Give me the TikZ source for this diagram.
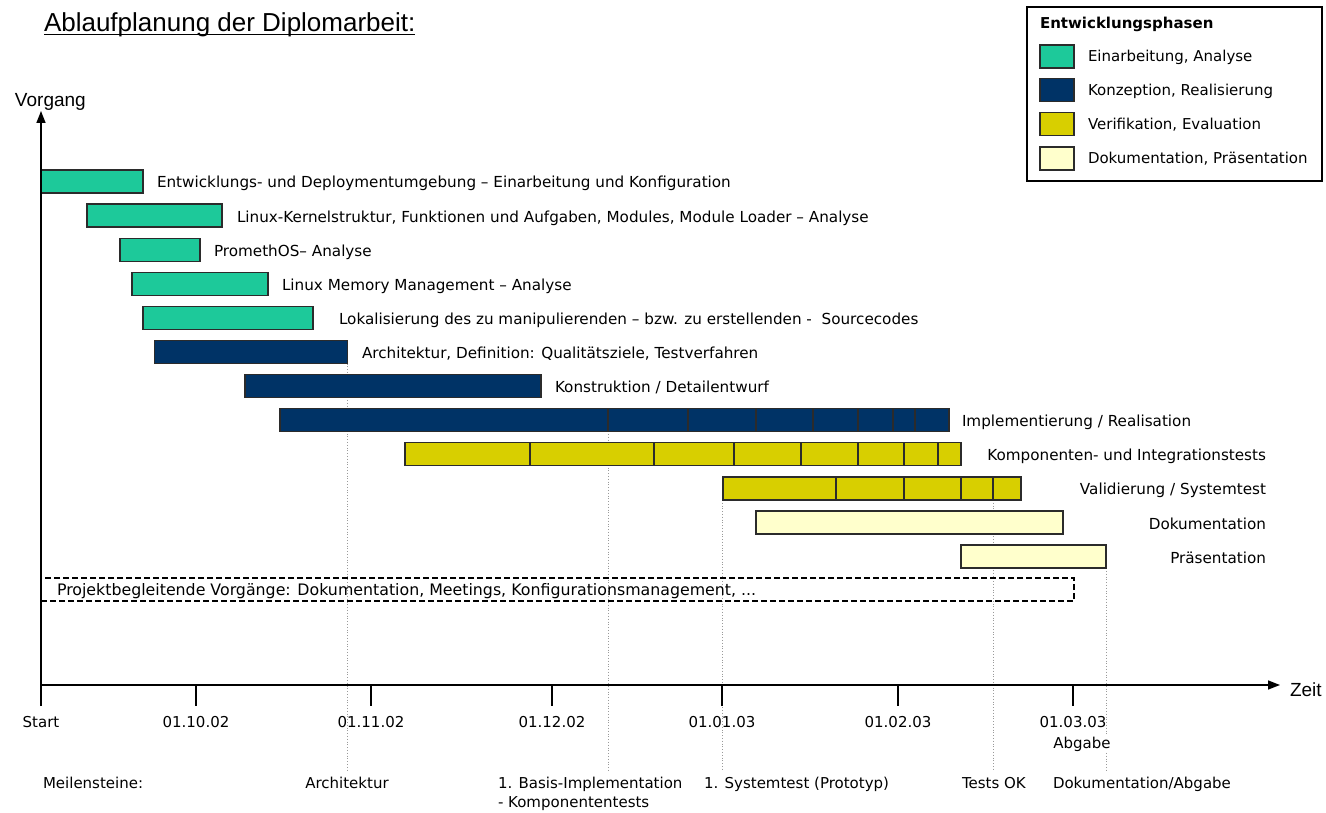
\documentclass[tikz,border=0pt]{standalone}
\usepackage{fontspec}
\setmainfont{DejaVu Sans}
\newfontfamily\headfont{Liberation Sans}
\usetikzlibrary{arrows.meta}
\pgfdeclarelayer{guides}
\pgfsetlayers{guides,main}
\definecolor{phaseA}{HTML}{1DC99A}
\definecolor{phaseB}{HTML}{003366}
\definecolor{phaseC}{HTML}{D8CF00}
\definecolor{phaseD}{HTML}{FFFFCC}
\definecolor{barline}{HTML}{2B2B2B}
\definecolor{milegray}{HTML}{9A9A9A}

\begin{document}
\begin{tikzpicture}[x=1pt,y=-1pt,
  every node/.style={font=\fontsize{15}{19}\selectfont, inner sep=0pt, outer sep=0pt},
  bar/.style={draw=barline, line width=1.3pt, anchor=north west, minimum height=23pt},
  barA/.style={bar, fill=phaseA},
  barB/.style={bar, fill=phaseB},
  barC/.style={bar, fill=phaseC},
  barD/.style={bar, fill=phaseD},
  seg/.style={draw=barline, line width=1.1pt},
  lbl/.style={anchor=base west},
  lblr/.style={anchor=base east},
  barlbl/.style={font=\fontsize{15.2}{19}\selectfont},
  datelbl/.style={anchor=base},
  axisline/.style={line width=1.4pt, draw=black},
  tick/.style={line width=1.2pt},
  mile/.style={draw=milegray, line width=0.8pt, dotted},
  swatch/.style={draw=barline, line width=1.2pt, anchor=north west, minimum width=34pt, minimum height=23pt},
  tip/.style={-{Triangle[length=12pt,width=9pt]}}
]
\useasboundingbox (0,0) rectangle (1326,813);

% ---------- title ----------
\node[anchor=base west, font=\headfont\fontsize{26}{30}\selectfont] (title) at (44,32) {Ablaufplanung der Diplomarbeit:};
\draw[line width=1.2pt] ([yshift=-2.5pt]title.base west) -- ([yshift=-2.5pt]title.base east);

% ---------- bars ----------
\node[barA, minimum width=102pt] (b1) at (41,170) {};
\node[barA, minimum width=135pt] (b2) at (87,204.1) {};
\node[barA, minimum width=80pt]  (b3) at (120,238.2) {};
\node[barA, minimum width=136pt] (b4) at (132,272.3) {};
\node[barA, minimum width=170pt] (b5) at (143,306.4) {};
\node[barB, minimum width=193pt] (b6) at (154.5,340.5) {};
\node[barB, minimum width=296pt] (b7) at (245,374.6) {};
\node[barB, minimum width=669pt] (b8) at (280,408.7) {};
\node[barC, minimum width=556pt] (b9) at (405,442.8) {};
\node[barC, minimum width=298pt] (b10) at (723,476.9) {};
\node[barD, minimum width=307pt] (b11) at (756,511) {};
\node[barD, minimum width=145pt] (b12) at (961,545.1) {};

% segment dividers
\foreach \x in {608,688,756,813,858,893,915}
  \draw[seg] (\x,408.7) -- (\x,431.7);
\foreach \x in {530,654,734,801,858,904,938}
  \draw[seg] (\x,442.8) -- (\x,465.8);
\foreach \x in {836,904,961,993}
  \draw[seg] (\x,476.9) -- (\x,499.9);

% ---------- bar labels ----------
\node[lbl, barlbl] (t1) at (157,188) {Entwicklungs- und Deploymentumgebung – Einarbeitung und Konfiguration};
\node[lbl, barlbl] (t2) at (237,222.1) {Linux-Kernelstruktur, Funktionen und Aufgaben, Modules, Module Loader – Analyse};
\node[lbl, barlbl] (t3) at (214,256.2) {PromethOS– Analyse};
\node[lbl, barlbl] (t4) at (282,290.3) {Linux Memory Management – Analyse};
\node[lbl, barlbl] (t5) at (339,324.4) {Lokalisierung des zu manipulierenden – bzw. zu erstellenden -\ \ Sourcecodes};
\node[lbl, barlbl] (t6) at (362,358.5) {Architektur, Definition: Qualitätsziele, Testverfahren};
\node[lbl, barlbl] (t7) at (555,392.6) {Konstruktion / Detailentwurf};
\node[lbl, barlbl] (t8) at (962,426.7) {Implementierung / Realisation};
\node[lblr, barlbl] (t9) at (1266,460.8) {Komponenten- und Integrationstests};
\node[lblr, barlbl] (t10) at (1266,494.9) {Validierung / Systemtest};
\node[lblr, barlbl] (t11) at (1266,529) {Dokumentation};
\node[lblr, barlbl] (t12) at (1266,563.1) {Präsentation};

% ---------- accompanying tasks ----------
\node[draw, line width=1.5pt, dash pattern=on 6pt off 3pt, anchor=north west,
      minimum width=1033pt, minimum height=23pt] (pb) at (41,578) {};
\node[lbl, font=\fontsize{15.8}{19}\selectfont] (pbt) at (57,595.5) {Projektbegleitende Vorgänge: Dokumentation, Meetings, Konfigurationsmanagement, ...};

% ---------- axes ----------
\coordinate (origin) at (41,685);
\coordinate (ybottom) at (41,706);
\coordinate (ytop) at (41,111);
\coordinate (xend) at (1280,685);
\draw[axisline, tip] (ybottom) -- (ytop);
\draw[axisline, tip] (origin) -- (xend);
\node[anchor=base west, font=\headfont\fontsize{19}{22}\selectfont] (vorgang) at (15,106.5) {Vorgang};
\node[anchor=base west, font=\headfont\fontsize{19}{22}\selectfont] (zeit) at (1290,696) {Zeit};

\foreach \x in {196,371,552,722,898,1073}
  \draw[tick] (\x,685) -- (\x,706);

\node[datelbl] (d0) at (41,727) {Start};
\node[datelbl] (d1) at (196,727) {01.10.02};
\node[datelbl] (d2) at (371,727) {01.11.02};
\node[datelbl] (d3) at (552,727) {01.12.02};
\node[datelbl] (d4) at (722,727) {01.01.03};
\node[datelbl] (d5) at (898,727) {01.02.03};
\node[datelbl, fill=white] (d6) at (1073,727) {01.03.03};
\node[datelbl, fill=white, inner sep=1pt] (d6b) at (1082,748) {Abgabe};

% ---------- milestones ----------
\coordinate (m1) at (347.5,770);
\coordinate (m2) at (608,770);
\coordinate (m3) at (722.5,770);
\coordinate (m4) at (993,770);
\coordinate (m5) at (1106,770);
\begin{pgfonlayer}{guides}
  \draw[mile] (b6.south east -| m1) -- (m1);
  \draw[mile] (b8.north west -| m2) -- (m2);
  \draw[mile] (b10.south west -| m3) -- (m3);
  \draw[mile] (b10.south west -| m4) -- (m4);
  \draw[mile] (b12.south east -| m5) -- (m5);
\end{pgfonlayer}

\node[lbl] (ms0) at (43,788.5) {Meilensteine:};
\node[datelbl] (ms1) at (347,788.5) {Architektur};
\node[lbl, align=left] (ms2) at (498,807.5) {1. Basis-Implementation\\- Komponententests};
\node[lbl] (ms3) at (704,788.5) {1. Systemtest (Prototyp)};
\node[lbl] (ms4) at (962,788.5) {Tests OK};
\node[lbl] (ms5) at (1053,788.5) {Dokumentation/Abgabe};

% ---------- legend ----------
\node[draw, line width=1.3pt, anchor=north west, minimum width=295pt, minimum height=174pt] (legend) at (1027,7) {};
\node[lbl, font=\bfseries\fontsize{15}{19}\selectfont] (lgt) at (1040,29) {Entwicklungsphasen};
\node[swatch, fill=phaseA] (s1) at (1040,45) {};
\node[swatch, fill=phaseB] (s2) at (1040,78.5) {};
\node[swatch, fill=phaseC] (s3) at (1040,112.5) {};
\node[swatch, fill=phaseD] (s4) at (1040,147) {};
\node[lbl] (st1) at (1088,62) {Einarbeitung, Analyse};
\node[lbl] (st2) at (1088,95.5) {Konzeption, Realisierung};
\node[lbl] (st3) at (1088,129.5) {Verifikation, Evaluation};
\node[lbl] (st4) at (1088,164) {Dokumentation, Präsentation};
\end{tikzpicture}
\end{document}
